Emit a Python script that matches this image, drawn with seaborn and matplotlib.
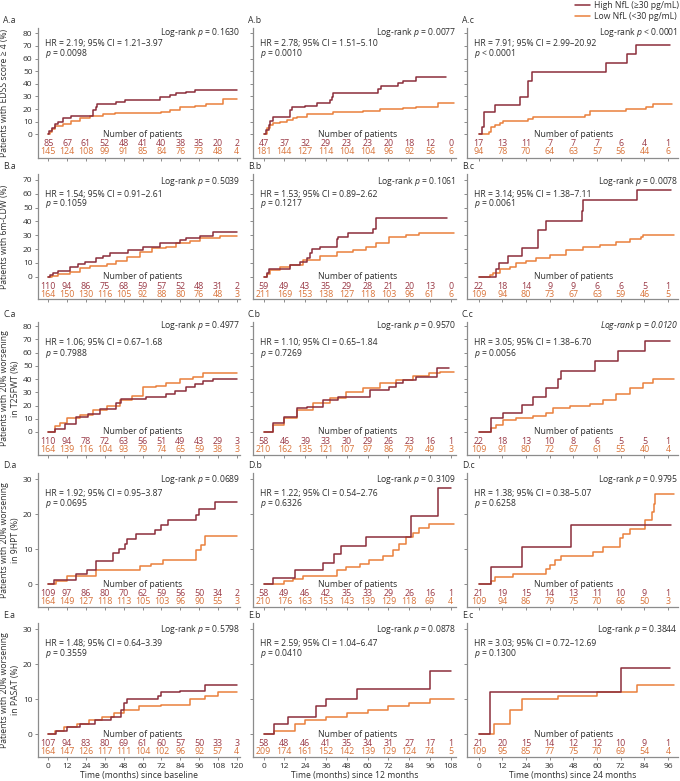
import matplotlib
matplotlib.use("Agg")
import matplotlib.pyplot as plt
from matplotlib.lines import Line2D
import numpy as np
import pandas as pd
import seaborn as sns

# ============================================
# Kaplan-Meier curves: high vs low NfL, 5 outcomes x 3 baselines
# ============================================

HIGH_COLOR = "#8B2D3B"
LOW_COLOR = "#EA803C"
HIGH_TEXT = "#9A3A47"
LOW_TEXT = "#D9743A"
TEXT = "#2E2E2E"
SPINE = "#8C8C8C"

# ---- curves: (month, cumulative %) ----
AA_HIGH = [(0, 0), (0.6, 2.9), (2.1, 5.3), (4, 8), (6.4, 10), (9.5, 12.7), (14.8, 14.5),
           (28.6, 19.2), (30.3, 21.9), (31.1, 23.8), (43.4, 25.6), (48.7, 27.2), (70.9, 29.3),
           (77.3, 31.1), (81.5, 32.7), (87.9, 33.8), (93.1, 35.1), (120, 35.1)]
AA_LOW = [(0, 0), (1, 1.5), (2.1, 4.5), (4.3, 6.5), (9.5, 8.5), (14.8, 10.6), (20.1, 13.2),
          (26.5, 14.5), (34.9, 16.3), (42.3, 17.2), (72, 17.8), (77.3, 19.2), (84, 21.4),
          (93.1, 22.4), (100.6, 24), (111.1, 28), (120, 28)]
AB_HIGH = [(0, 0), (1.5, 3.4), (2.9, 7.4), (3.8, 10.8), (5.7, 13.5), (15.3, 19.2), (16.3, 21.4),
           (23.9, 22.4), (30.6, 25.1), (38.2, 27.2), (39.2, 29.3), (40.1, 32.5), (65.9, 35.6),
           (67.9, 38.3), (77.4, 40.9), (80.3, 42.5), (88, 45.1), (105, 45.1)]
AB_LOW = [(0, 0), (1.9, 4.8), (3.8, 7.4), (5.7, 9.2), (9.5, 10), (13.4, 11.3), (17.2, 12.6),
          (19.1, 13.9), (24.8, 15.8), (40.1, 17.9), (57.3, 18.4), (66.9, 19.7), (80.3, 21.2),
          (88, 21.9), (100.4, 24.5), (110, 24.5)]
AC_HIGH = [(0, 0), (1.7, 5.5), (2.9, 17.4), (8.1, 22.9), (20.8, 29.3), (25, 42), (27.2, 49.3),
           (64.7, 56.2), (75.4, 63.6), (79.5, 70.7), (96.9, 70.7)]
AC_LOW = [(0, 0), (5.2, 2.1), (6.4, 6.1), (8.1, 7.4), (10.6, 9.2), (12.3, 10.6), (25, 12.2),
          (27.5, 14), (53.8, 15.3), (56.3, 18.5), (74.9, 20.1), (85, 21.9), (88.4, 24.3), (98, 24.3)]

BA_HIGH = [(0, 0), (1.1, 1.2), (3.2, 2.4), (6.4, 4.4), (13.8, 7.3), (19, 9), (23.3, 10.4),
           (30.7, 13.3), (34.9, 15), (39.2, 16.9), (50.8, 19.3), (60.3, 21.7), (70.9, 24.2),
           (83.6, 26.6), (87.9, 27.8), (96.3, 29.5), (104.8, 32.6), (120, 32.6)]
BA_LOW = [(0, 0), (2.1, 0.7), (6.4, 1.9), (13.8, 3.6), (20.1, 6), (26.5, 7.7), (37.1, 9.2),
          (43.4, 11.3), (49.8, 14.5), (58.2, 18.1), (66, 20.5), (75.2, 21.7), (81.5, 24.6),
          (90, 26.2), (96.3, 27.8), (109, 29.5), (120, 29.5)]
BB_HIGH = [(0, 0), (1.9, 2.4), (3.4, 5.3), (15.3, 8.5), (21, 10.9), (24.9, 13.3), (26.8, 16.9),
           (27.7, 19.8), (32.5, 21.3), (42.1, 27.1), (43, 28.5), (48.8, 31.9), (63.1, 34.3),
           (65, 42.3), (106, 42.3)]
BB_LOW = [(0, 0), (1.9, 1.8), (3.8, 4.6), (9.5, 6.8), (15.3, 8.5), (22.9, 11.9), (32.5, 14.9),
          (42.1, 17.8), (51.6, 19.3), (59.3, 21.7), (65, 24.6), (72.6, 28.5), (82.2, 30.2),
          (89.8, 31.4), (99.4, 31.9), (110, 31.9)]
BC_HIGH = [(0, 0), (9, 5.3), (10.3, 9.7), (14.9, 15), (22.1, 20.5), (30.1, 33.8), (34.3, 40.3),
           (52.6, 47.6), (52.9, 55.5), (80.3, 62.8), (97.7, 62.8)]
BC_LOW = [(0, 0), (5.6, 1), (7.3, 2.5), (10.6, 5.3), (15.7, 7.2), (19.1, 9.7), (24.2, 11.5),
          (29.3, 13.4), (36, 15.5), (44.5, 19.3), (52.9, 21.2), (61.4, 23.2), (69.8, 25.1),
          (76.6, 27.1), (82.5, 28.8), (83.3, 30.2), (99, 30.2)]

CA_HIGH = [(0, 0), (4.3, 2), (10.6, 6), (17.6, 11.6), (25.4, 13.6), (32.8, 17.1), (43.4, 21.6),
           (46.6, 24.7), (62.5, 26.7), (75.2, 28.4), (80.4, 31.2), (87.9, 33.7), (93.1, 36.2),
           (98.4, 38.5), (104.8, 40.3), (120, 40.3)]
CA_LOW = [(0, 0), (4.3, 4.5), (7.5, 7), (11.7, 10.3), (20.2, 12.8), (28.6, 16.6), (37.1, 19.6),
          (45.5, 24.2), (53, 27), (60.3, 33.7), (68.8, 35), (75.2, 37.2), (83.6, 39.8),
          (92.1, 41.5), (98.4, 44.3), (120, 44.3)]
CB_HIGH = [(0, 0), (5.7, 6.5), (11.5, 11.6), (19.1, 17.9), (24.9, 19.1), (34.4, 24.2), (43, 26.7),
           (61.2, 31.7), (72.6, 33.7), (76.5, 37.2), (80.3, 39.2), (88, 41.8), (100.3, 48.1),
           (107, 48.1)]
CB_LOW = [(0, 0), (5.7, 5.3), (11.5, 10.3), (19.1, 16.6), (28.6, 21.6), (38.2, 25.4), (47.7, 30.4),
          (57.3, 33.5), (66.9, 36.7), (76.5, 39.2), (86, 42.3), (95.6, 44.3), (102, 45.5), (110, 45.5)]
CC_HIGH = [(0, 0), (6.4, 10.3), (12.3, 14.6), (22.1, 20.4), (27.5, 26.7), (34.3, 33), (40.2, 40),
           (41.9, 46.3), (58.8, 53.6), (70.6, 61.1), (84.2, 68.9), (96.9, 68.9)]
CC_LOW = [(0, 0), (6.4, 2.8), (8.9, 5.3), (12.3, 8.8), (19.1, 10.3), (27.5, 12), (34.3, 14.7),
          (37.6, 18.5), (46.1, 19.7), (56.3, 21.4), (63, 24.5), (69.8, 28.8), (76.6, 33),
          (83.3, 37.4), (88.4, 40), (99, 40)]

DA_HIGH = [(0, 0), (3.8, 1.1), (17.6, 2.9), (24.8, 4.2), (30.7, 6.6), (41.3, 9), (44.9, 10.2),
           (49.1, 11.6), (49.8, 12.8), (56.1, 14.3), (67.7, 15.4), (72, 16.9), (76.2, 18.5),
           (94.2, 19.9), (95.9, 21.6), (105.8, 23.5), (120, 23.5)]
DA_LOW = [(0, 0), (4.9, 1), (11.7, 2.3), (30.7, 4.2), (58.2, 5.1), (65.6, 5.9), (73, 6.9),
          (94.2, 9.9), (97.4, 11.1), (99.5, 13.7), (120, 13.7)]
DB_HIGH = [(0, 0), (5.7, 1.9), (18.2, 4), (34.4, 6.1), (40.5, 8.6), (44.6, 11), (58.9, 13.5),
           (85.1, 19.6), (100.4, 27.6), (108, 27.6)]
DB_LOW = [(0, 0), (11.5, 1), (17.2, 1.6), (22.9, 2.3), (42.1, 4), (47.7, 5), (55.4, 5.9),
          (61.1, 6.9), (68.8, 8), (74.5, 9.7), (78.4, 11.4), (82.2, 13.5), (86, 14.7),
          (89.8, 16.1), (95.6, 17.1), (110, 17.1)]
DC_HIGH = [(0, 0), (6.4, 4.95), (22.1, 10.7), (47, 17), (97.7, 17)]
DC_LOW = [(0, 0), (6.4, 1), (8.1, 2.1), (17.4, 3), (34.3, 4.5), (36, 5.4), (38.5, 6.9), (41.9, 8),
          (58, 9.2), (63, 10.7), (71.5, 13.3), (73.2, 14.4), (76.6, 15.9), (84.2, 18.5),
          (87.6, 20.7), (88.7, 23), (89.2, 25.9), (99, 25.9)]

EA_HIGH = [(0, 0), (5, 1), (12, 2), (20, 3), (30, 4), (40, 5), (46, 7), (48, 9), (50, 10),
           (70, 11), (72, 12), (84, 12.5), (100, 14), (120, 14)]
EA_LOW = [(0, 0), (4, 1), (10, 2), (18, 3), (26, 4), (34, 5), (42, 6), (48, 7), (58, 8),
          (72, 8.5), (90, 10), (100, 11), (108, 12), (120, 12)]
EB_HIGH = [(0, 0), (6, 3), (14, 5), (30, 8), (36, 10), (54, 13), (96, 18), (108, 18)]
EB_LOW = [(0, 0), (6, 1), (18, 3), (24, 4), (36, 5), (48, 6), (60, 7), (72, 8), (84, 9),
          (96, 10), (110, 10)]
EC_HIGH = [(0, 0), (6, 12), (72, 19), (97, 19)]
EC_LOW = [(0, 0), (8, 3), (16, 7), (22, 10), (40, 11), (60, 12), (80, 14), (99, 14)]

# ---- number at risk (every 12 months) ----
AA_N_HIGH = [85, 67, 61, 52, 48, 41, 40, 38, 35, 20, 2]
AA_N_LOW = [145, 124, 108, 99, 91, 85, 84, 76, 73, 48, 4]
AB_N_HIGH = [47, 37, 32, 29, 23, 23, 20, 18, 12, 0]
AB_N_LOW = [181, 144, 127, 114, 104, 104, 96, 92, 56, 6]
AC_N_HIGH = [17, 13, 11, 7, 7, 7, 6, 4, 1]
AC_N_LOW = [94, 78, 70, 64, 63, 57, 56, 44, 6]
BA_N_HIGH = [110, 94, 86, 75, 68, 59, 57, 52, 48, 31, 2]
BA_N_LOW = [164, 150, 130, 116, 105, 92, 88, 80, 76, 48, 3]
BB_N_HIGH = [59, 49, 43, 35, 29, 28, 21, 20, 13, 0]
BB_N_LOW = [211, 169, 153, 138, 127, 118, 103, 96, 61, 6]
BC_N_HIGH = [22, 18, 14, 9, 9, 6, 6, 5, 1]
BC_N_LOW = [109, 94, 80, 73, 67, 63, 59, 46, 5]
CA_N_HIGH = [110, 94, 78, 72, 63, 56, 51, 49, 43, 29, 3]
CA_N_LOW = [164, 139, 116, 104, 93, 79, 74, 65, 59, 38, 3]
CB_N_HIGH = [58, 46, 39, 33, 30, 29, 26, 23, 16, 1]
CB_N_LOW = [210, 162, 135, 121, 107, 97, 86, 79, 49, 3]
CC_N_HIGH = [22, 18, 13, 10, 8, 6, 5, 5, 1]
CC_N_LOW = [109, 91, 80, 72, 67, 61, 55, 40, 4]
DA_N_HIGH = [109, 97, 86, 80, 70, 62, 59, 56, 50, 34, 2]
DA_N_LOW = [164, 149, 127, 118, 113, 105, 103, 96, 90, 55, 3]
DB_N_HIGH = [58, 49, 46, 42, 35, 33, 29, 26, 16, 1]
DB_N_LOW = [210, 176, 163, 153, 143, 139, 129, 118, 69, 4]
DC_N_HIGH = [21, 19, 15, 14, 13, 11, 10, 9, 1]
DC_N_LOW = [109, 94, 86, 79, 75, 70, 66, 50, 3]
EA_N_HIGH = [107, 94, 83, 80, 69, 61, 60, 57, 50, 33, 3]
EA_N_LOW = [164, 147, 126, 117, 111, 104, 102, 96, 92, 57, 4]
EB_N_HIGH = [58, 48, 46, 41, 35, 34, 31, 27, 17, 1]
EB_N_LOW = [209, 174, 161, 152, 142, 139, 129, 124, 74, 5]
EC_N_HIGH = [21, 20, 15, 14, 12, 12, 10, 9, 1]
EC_N_LOW = [109, 95, 85, 77, 75, 70, 69, 54, 4]

# ---- statistics text ----
HR_TEXT = {
    "A.a": ("HR = 2.19; 95% CI = 1.21–3.97", "= 0.0098", "= 0.1630"),
    "A.b": ("HR = 2.78; 95% CI = 1.51–5.10", "= 0.0010", "= 0.0077"),
    "A.c": ("HR = 7.91; 95% CI = 2.99–20.92", "< 0.0001", "< 0.0001"),
    "B.a": ("HR = 1.54; 95% CI = 0.91–2.61", "= 0.1059", "= 0.5039"),
    "B.b": ("HR = 1.53; 95% CI = 0.89–2.62", "= 0.1217", "= 0.1061"),
    "B.c": ("HR = 3.14; 95% CI = 1.38–7.11", "= 0.0061", "= 0.0078"),
    "C.a": ("HR = 1.06; 95% CI = 0.67–1.68", "= 0.7988", "= 0.4977"),
    "C.b": ("HR = 1.10; 95% CI = 0.65–1.84", "= 0.7269", "= 0.9570"),
    "C.c": ("HR = 3.05; 95% CI = 1.38–6.70", "= 0.0056", "= 0.0120"),
    "D.a": ("HR = 1.92; 95% CI = 0.95–3.87", "= 0.0695", "= 0.0689"),
    "D.b": ("HR = 1.22; 95% CI = 0.54–2.76", "= 0.6326", "= 0.3109"),
    "D.c": ("HR = 1.38; 95% CI = 0.38–5.07", "= 0.6258", "= 0.9795"),
    "E.a": ("HR = 1.48; 95% CI = 0.64–3.39", "= 0.3559", "= 0.5798"),
    "E.b": ("HR = 2.59; 95% CI = 1.04–6.47", "= 0.0410", "= 0.0878"),
    "E.c": ("HR = 3.03; 95% CI = 0.72–12.69", "= 0.1300", "= 0.3844"),
}

ROW_LABELS = ["Patients with EDSS score ≥ 4 (%)",
              "Patients with 6m-CDW (%)",
              "Patients with 20% worsening\nin T25FWT (%)",
              "Patients with 20% worsening\nin 9HPT (%)",
              "Patients with 20% worsening\nin PASAT (%)"]
COL_XLABELS = ["Time (months) since baseline",
               "Time (months) since 12 months",
               "Time (months) since 24 months"]
COL_TMAX = [120, 108, 96]

# ============================================
# layout (pixels of the 680 x 781 figure)
# ============================================
W, H = 680, 781
COL_X = [(38, 240), (253, 456), (467, 678)]
ROW_Y = [(28, 158), (174, 299), (322, 455), (473, 607), (623, 757)]
ROW_YLIM = [(-18.8, 84.2), (-16.1, 74.3), (-17.4, 83.2), (-6.5, 31.8), (-6.5, 31.8)]
ROW_YTICKS = [range(0, 81, 10), range(0, 71, 10), range(0, 81, 10), range(0, 31, 10), range(0, 31, 10)]
COL_XLIM = [(-6.5, 122), (-6.1, 111), (-5.9, 101)]
# pixel offsets below the axes top: (log-rank line, HR line, p line)
ROW_TEXT_OFF = [(5, 16, 26), (7, 20, 30), (4, 21, 31), (6, 20.5, 31), (6, 20.5, 31)]

sns.set_style("ticks")
plt.rcParams["font.family"] = ["Open Sans", "DejaVu Sans"]
plt.rcParams["mathtext.fontset"] = "custom"
plt.rcParams["mathtext.it"] = "Open Sans:italic"
plt.rcParams["mathtext.rm"] = "Open Sans"

curves = {
    "A.a": (AA_HIGH, AA_LOW, AA_N_HIGH, AA_N_LOW), "A.b": (AB_HIGH, AB_LOW, AB_N_HIGH, AB_N_LOW),
    "A.c": (AC_HIGH, AC_LOW, AC_N_HIGH, AC_N_LOW), "B.a": (BA_HIGH, BA_LOW, BA_N_HIGH, BA_N_LOW),
    "B.b": (BB_HIGH, BB_LOW, BB_N_HIGH, BB_N_LOW), "B.c": (BC_HIGH, BC_LOW, BC_N_HIGH, BC_N_LOW),
    "C.a": (CA_HIGH, CA_LOW, CA_N_HIGH, CA_N_LOW), "C.b": (CB_HIGH, CB_LOW, CB_N_HIGH, CB_N_LOW),
    "C.c": (CC_HIGH, CC_LOW, CC_N_HIGH, CC_N_LOW), "D.a": (DA_HIGH, DA_LOW, DA_N_HIGH, DA_N_LOW),
    "D.b": (DB_HIGH, DB_LOW, DB_N_HIGH, DB_N_LOW), "D.c": (DC_HIGH, DC_LOW, DC_N_HIGH, DC_N_LOW),
    "E.a": (EA_HIGH, EA_LOW, EA_N_HIGH, EA_N_LOW), "E.b": (EB_HIGH, EB_LOW, EB_N_HIGH, EB_N_LOW),
    "E.c": (EC_HIGH, EC_LOW, EC_N_HIGH, EC_N_LOW),
}

fig = plt.figure(figsize=(W / 100, H / 100), dpi=100)

FS = 6.2
for r, row in enumerate("ABCDE"):
    for c, col in enumerate("abc"):
        key = f"{row}.{col}"
        high, low, n_high, n_low = curves[key]
        x0, x1 = COL_X[c]
        y0, y1 = ROW_Y[r]
        ax = fig.add_axes([x0 / W, 1 - y1 / H, (x1 - x0) / W, (y1 - y0) / H])

        for pts, color in ((low, LOW_COLOR), (high, HIGH_COLOR)):
            df = pd.DataFrame(pts, columns=["month", "pct"])
            sns.lineplot(data=df, x="month", y="pct", drawstyle="steps-post", color=color,
                         lw=1.1, estimator=None, ax=ax)

        tmax = COL_TMAX[c]
        ticks = np.arange(0, tmax + 1, 12)
        ax.set_xlim(*COL_XLIM[c])
        ax.set_ylim(*ROW_YLIM[r])
        ax.set_xticks(ticks)
        ax.set_yticks(list(ROW_YTICKS[r]))
        ax.set_xlabel("")
        ax.set_ylabel("")
        sns.despine(ax=ax)
        for s in ("left", "bottom"):
            ax.spines[s].set_color(SPINE)
            ax.spines[s].set_linewidth(0.9)
        ax.tick_params(axis="both", length=2.5, width=0.7, color=SPINE, pad=1.5,
                       labelsize=6.0, labelcolor=TEXT)
        if c > 0:
            ax.set_yticklabels([])
        if r < 4:
            ax.set_xticklabels([])
        else:
            ax.set_xlabel(COL_XLABELS[c], fontsize=FS, labelpad=1, color=TEXT)

        # risk table
        ax.text(tmax / 2, 0, "Number of patients", ha="center", va="center",
                fontsize=FS, color=TEXT)
        for t, nh, nl in zip(ticks, n_high, n_low):
            ax.annotate(str(nh), (t, 0), xytext=(0, -9.5), textcoords="offset pixels",
                        ha="center", va="center", fontsize=6.4, color=HIGH_TEXT)
            ax.annotate(str(nl), (t, 0), xytext=(0, -17.5), textcoords="offset pixels",
                        ha="center", va="center", fontsize=6.4, color=LOW_TEXT)

        # statistics
        hr, pv, lr = HR_TEXT[key]
        off_lr, off_hr, off_p = ROW_TEXT_OFF[r]
        ax.annotate(hr, (0.035, 1), xycoords="axes fraction", xytext=(0, -off_hr),
                    textcoords="offset pixels", ha="left", va="center", fontsize=FS, color=TEXT)
        ax.annotate("$p$ " + pv, (0.035, 1), xycoords="axes fraction", xytext=(0, -off_p),
                    textcoords="offset pixels", ha="left", va="center", fontsize=FS, color=TEXT)
        if key == "C.c":
            ax.annotate("Log-rank $\\mathrm{p}$ " + lr, (1, 1), xycoords="axes fraction",
                        xytext=(0, -off_lr), textcoords="offset pixels", ha="right",
                        va="center", fontsize=FS, color=TEXT, style="italic")
        else:
            ax.annotate("Log-rank $p$ " + lr, (1, 1), xycoords="axes fraction",
                        xytext=(0, -off_lr), textcoords="offset pixels", ha="right",
                        va="center", fontsize=FS, color=TEXT)

        # panel label
        lx = 3 if c == 0 else x0 - 5
        fig.text(lx / W, 1 - (y0 - 7.5) / H, key, ha="left", va="center",
                 fontsize=FS, color=TEXT)

    # row y label
    fig.text(10 / W if "\n" in ROW_LABELS[r] else 5 / W, 1 - (sum(ROW_Y[r]) / 2) / H,
             ROW_LABELS[r], rotation=90, ha="center", va="center", fontsize=FS,
             color=TEXT, multialignment="center")

handles = [Line2D([], [], color=HIGH_COLOR, lw=1.1), Line2D([], [], color=LOW_COLOR, lw=1.1)]
fig.legend(handles, ["High NfL (≥30 pg/mL)", "Low NfL (<30 pg/mL)"], loc="upper right",
           bbox_to_anchor=(1.0, 1.0), frameon=False, fontsize=FS, handlelength=1.8,
           handletextpad=0.4, labelspacing=0.25, borderpad=0.15, borderaxespad=0,
           labelcolor=TEXT)

fig.savefig("out.png", dpi=100)
